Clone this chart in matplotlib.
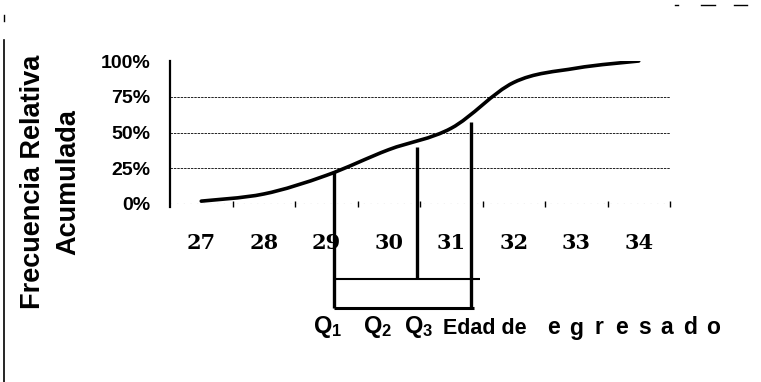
import numpy as np
import matplotlib
matplotlib.use("Agg")
import matplotlib.pyplot as plt
from matplotlib.path import Path
from matplotlib.patches import PathPatch
from matplotlib.lines import Line2D

# datos
edades = [27, 28, 29, 30, 31, 32, 33, 34]
frec_acum = [2, 7, 20, 38, 53, 85, 95, 100]   # porcentaje acumulado
pct_ticks = [0, 25, 50, 75, 100]
pct_labels = ["0%", "25%", "50%", "75%", "100%"]
cuartiles = [29.13, 30.45, 31.32]             # Q1, Q2, Q3 (edad)
cuartil_tope = [23, 40, 57]                   # hasta donde sube cada linea (%)

plt.rcParams["font.family"] = ["Liberation Sans", "DejaVu Sans"]
plt.rcParams["mathtext.fontset"] = "custom"
plt.rcParams["mathtext.bf"] = "Liberation Sans:bold"
plt.rcParams["mathtext.rm"] = "Liberation Sans:bold"

W, H = 761, 382
fig = plt.figure(figsize=(W / 100, H / 100), dpi=100)
ax = fig.add_axes([170 / W, 1 - 204 / H, 500 / W, 143 / H])

ax.set_xlim(edades[0] - 0.5, edades[-1] + 0.5)
ax.set_ylim(0, 100)

# ojiva suavizada (curva tipo excel)
pts = np.column_stack([edades, frec_acum]).astype(float)
n = len(pts)
verts = [tuple(pts[0])]
codes = [Path.MOVETO]
for i in range(n - 1):
    p0 = pts[max(i - 1, 0)]
    p1 = pts[i]
    p2 = pts[i + 1]
    p3 = pts[min(i + 2, n - 1)]
    c1 = p1 + (p2 - p0) / 6
    c2 = p2 - (p3 - p1) / 6
    verts += [tuple(c1), tuple(c2), tuple(p2)]
    codes += [Path.CURVE4] * 3
ax.add_patch(PathPatch(Path(verts, codes), fill=False, lw=2.6,
                       edgecolor="black", capstyle="round", zorder=4))

# lineas de referencia
for p in pct_ticks[1:-1]:
    ax.axhline(p, color="#222222", lw=0.7, ls=(0, (2.5, 1)), zorder=1)
ax.axhline(0, color="#333333", lw=0.8, ls=(0, (1, 5)), zorder=1)

# ejes
for s in ["top", "right", "bottom"]:
    ax.spines[s].set_visible(False)
ax.spines["left"].set_linewidth(1.6)
ax.spines["left"].set_bounds(-2, 100)

ax.set_yticks(pct_ticks, pct_labels)
ax.tick_params(axis="y", length=0, pad=14, labelsize=14)
for t in ax.get_yticklabels():
    t.set_fontweight("bold")

bordes = [e + 0.5 for e in edades]
ax.set_xticks(bordes, [""] * len(bordes))
ax.tick_params(axis="x", which="major", direction="inout", length=4, width=1)
ax.set_xticks(edades, [str(e) for e in edades], minor=True)
ax.tick_params(axis="x", which="minor", length=0, pad=21, labelsize=15)
for t in ax.get_xticklabels(minor=True):
    t.set_fontfamily("DejaVu Serif")
    t.set_fontweight("bold")

# caja de cuartiles debajo del eje
y_medio, y_bajo = -52.4, -72.7
q1, q2, q3 = cuartiles
kw = dict(color="black", clip_on=False, zorder=6, solid_capstyle="butt")
ax.plot([q1, q1], [cuartil_tope[0], y_bajo], lw=2.4, **kw)
ax.plot([q2, q2], [cuartil_tope[1], y_medio], lw=2.4, **kw)
ax.plot([q3, q3], [cuartil_tope[2], y_bajo], lw=2.4, **kw)
ax.plot([q1, q3 + 0.14], [y_medio, y_medio], lw=1.5, **kw)
ax.plot([q1, q3 + 0.04], [y_bajo, y_bajo], lw=2.2, **kw)

# textos
fig.text(33 / W, 1 - 182 / H, "Frecuencia Relativa", rotation=90,
         ha="center", va="center", fontsize=19.5, fontweight="bold")
fig.text(68 / W, 1 - 182 / H, "Acumulada", rotation=90,
         ha="center", va="center", fontsize=19.5, fontweight="bold")

for i, x0 in enumerate([313, 363, 404]):
    fig.text(x0 / W, 1 - 327 / H, r"$\mathbf{Q_%d}$" % (i + 1),
             ha="left", va="center", fontsize=17)
fig.text(443 / W, 1 - 328 / H, "Edad de", ha="left", va="center",
         fontsize=15.5, fontweight="bold")
# "egresado" con letras separadas
for i, letra in enumerate("egresado"):
    fig.text((553 + i * 22.8) / W, 1 - 328 / H, letra, ha="center",
             va="center", fontsize=16.5, fontweight="bold")

# marcas del escaneo
fig.add_artist(Line2D([4 / W, 4 / W], [0, 1 - 40 / H], lw=1.2, color="black"))
fig.add_artist(Line2D([4 / W, 4 / W], [1 - 15 / H, 1 - 21 / H], lw=1, color="black"))
for xa, xb in [(675, 678), (701, 715), (734, 747)]:
    fig.add_artist(Line2D([xa / W, xb / W], [1 - 5 / H, 1 - 5 / H], lw=1, color="black"))

fig.savefig("out.png", dpi=100)
